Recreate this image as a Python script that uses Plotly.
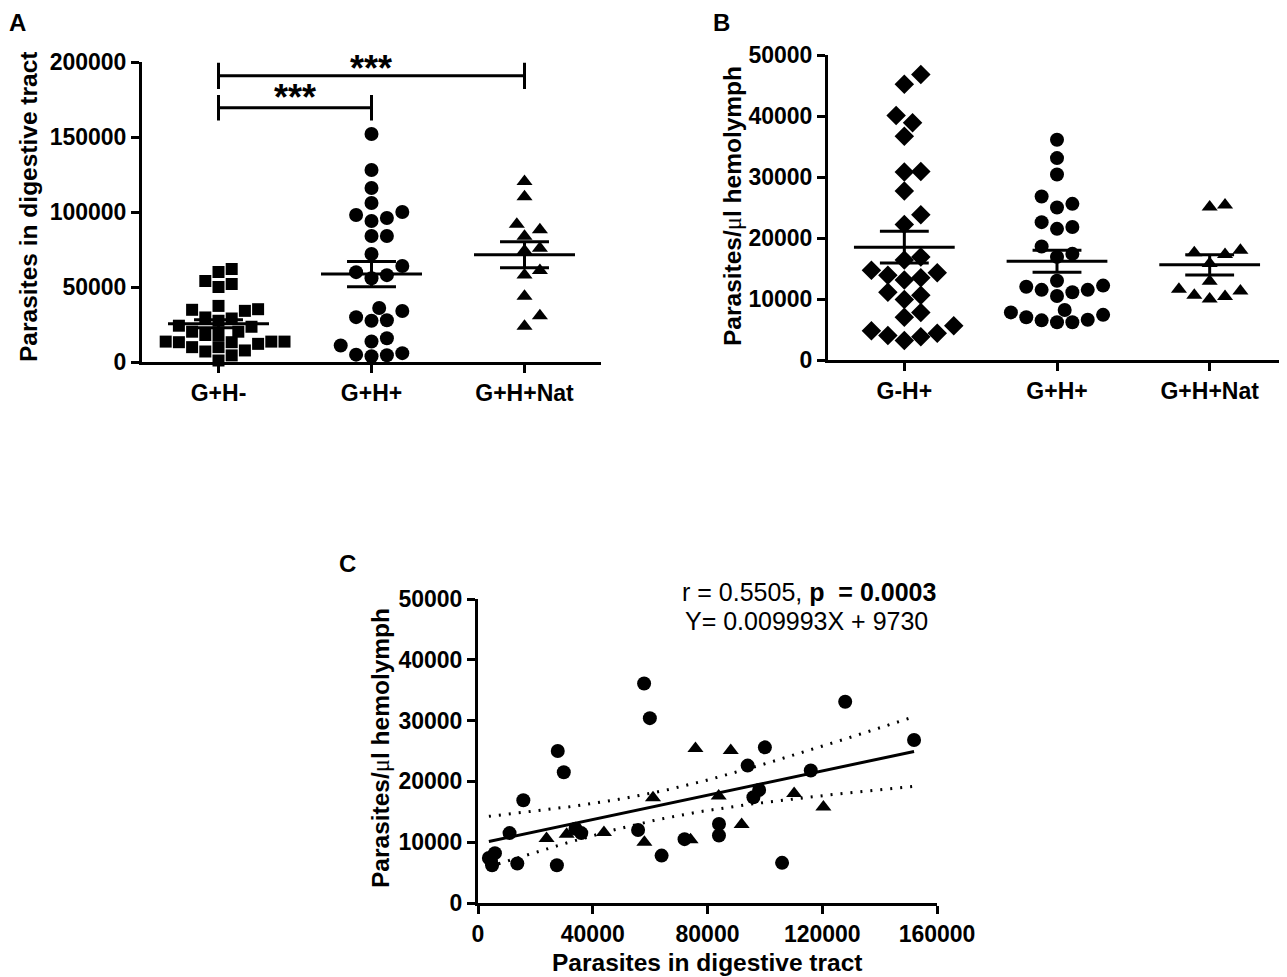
import numpy as np
import plotly.graph_objects as go

# the page body has an 8px margin, so the figure is drawn 8px in from the corner
BODY = 8
W, H = 1287 - BODY, 977 - BODY
FONT = "Liberation Sans"

# ---- data ----
# Panel A: parasites in digestive tract
a_groups = ['G+H-', 'G+H+', 'G+H+Nat']
gut_gh_minus = [62000, 60000, 54000, 52000, 50000, 37400, 35200, 34800, 34100, 29700,
                29000, 27500, 24200, 23500, 20200, 20200, 18000, 18000, 13600, 13600,
                13600, 13200, 13200, 12100, 9900, 9900, 7700, 7000, 4400, 1000]

# G+H+ insects, gut load paired with hemolymph load (used in A, B and C)
gut_gh_plus = [3800, 4500, 4900, 5900, 11000, 13700, 15800, 27800, 27500, 29900,
               34000, 36000, 55800, 57900, 59900, 64000, 72000, 84000, 84000, 94000,
               96000, 98000, 100000, 106000, 116000, 128000, 152000]
hemo_gh_plus = [7400, 7000, 6200, 8200, 11500, 6500, 16900, 25000, 6200, 21500,
                12200, 11500, 12000, 36100, 30400, 7800, 10500, 13000, 11100, 22600,
                17400, 18600, 25600, 6600, 21800, 33100, 26800]

# G+H+Nat insects, paired
gut_nat = [23900, 30900, 43900, 58000, 61000, 74100, 75800, 83900, 88100, 91900, 110200, 120400]
hemo_nat = [10600, 11300, 11600, 10000, 17300, 10400, 25400, 17600, 25100, 12900, 18000, 15800]

# Panel B: parasites / ul hemolymph
b_groups = ['G-H+', 'G+H+', 'G+H+Nat']
hemo_g_minus = [46800, 45200, 40100, 38900, 36700, 30800, 30900, 27700, 23800, 22200,
                16900, 16400, 14300, 14700, 13100, 13500, 13900, 9900, 10600, 11100,
                7800, 7000, 5600, 4800, 4400, 3800, 4000, 3200]

# mean +/- SEM bars as drawn
a_mean = [25500, 58600, 71500]
a_sem = [2600, 8400, 8700]
b_mean = [18500, 16200, 15600]
b_sem = [2600, 1800, 1650]

# Panel C regression: equation as printed, line as drawn
eq_slope, eq_intercept = 0.009993, 9730
line_slope, line_intercept = 0.09993, 9730
r_text = "r = 0.5505, "
p_text = "p\u00a0\u00a0= 0.0003"

# ---- helpers ----
def px(x):
    return (x - BODY) / W


def py(y):
    return 1 - (y - BODY) / H


def swarm(vals, y_px_per_unit, cat_px, size):
    # simple beeswarm: spread points that would overlap side by side
    vals = np.asarray(vals, dtype=float)
    offs = np.zeros(len(vals))
    placed = []
    step = size * 0.55
    for i in np.argsort(vals):
        y = vals[i] * y_px_per_unit
        k = 0
        while True:
            cands = [0.0] if k == 0 else [k * step, -k * step]
            ok = None
            for c in cands:
                if all((c - ox) ** 2 + (y - oy) ** 2 >= size ** 2 for ox, oy in placed):
                    ok = c
                    break
            if ok is not None:
                offs[i] = ok
                placed.append((ok, y))
                break
            k += 1
    return offs / cat_px


def mean_sem_trace(means, sems, xaxis, yaxis):
    xs, ys = [], []
    for i, (m, s) in enumerate(zip(means, sems)):
        xs += [i - 0.33, i + 0.33, None, i, i, None,
               i - 0.16, i + 0.16, None, i - 0.16, i + 0.16, None]
        ys += [m, m, None, m - s, m + s, None,
               m + s, m + s, None, m - s, m - s, None]
    return go.Scatter(x=xs, y=ys, mode='lines', line=dict(color='black', width=3),
                      xaxis=xaxis, yaxis=yaxis, hoverinfo='skip', showlegend=False)


fig = go.Figure()

# ---- Panel A ----
A_YPX = 300 / 200000
CATPX = 153
a_sets = [(gut_gh_minus, 'square', 12), (gut_gh_plus, 'circle', 14), (gut_nat, 'triangle-up', 14)]
for i, (vals, sym, sz) in enumerate(a_sets):
    xo = swarm(vals, A_YPX, CATPX, sz)
    fig.add_trace(go.Scatter(x=i + xo, y=vals, mode='markers', xaxis='x', yaxis='y',
                             marker=dict(symbol=sym, size=sz, color='black'),
                             cliponaxis=False, showlegend=False, name=a_groups[i]))
fig.add_trace(mean_sem_trace(a_mean, a_sem, 'x', 'y'))

# ---- Panel B ----
B_YPX = 305 / 50000
b_sets = [(hemo_g_minus, 'diamond', 15), (hemo_gh_plus, 'circle', 14), (hemo_nat, 'triangle-up', 14)]
for i, (vals, sym, sz) in enumerate(b_sets):
    xo = swarm(vals, B_YPX, CATPX, sz)
    fig.add_trace(go.Scatter(x=i + xo, y=vals, mode='markers', xaxis='x2', yaxis='y2',
                             marker=dict(symbol=sym, size=sz, color='black'),
                             cliponaxis=False, showlegend=False, name=b_groups[i]))
fig.add_trace(mean_sem_trace(b_mean, b_sem, 'x2', 'y2'))

# ---- Panel C ----
x_all = np.array(gut_gh_plus + gut_nat, dtype=float)
y_all = np.array(hemo_gh_plus + hemo_nat, dtype=float)
n = len(x_all)
resid = y_all - (line_slope * x_all + line_intercept)
s = np.sqrt((resid ** 2).sum() / (n - 2))
xbar = x_all.mean()
sxx = ((x_all - xbar) ** 2).sum()
xg = np.linspace(x_all.min(), x_all.max(), 60)
fit = line_slope * xg + line_intercept
half = 2.026 * s * np.sqrt(1 / n + (xg - xbar) ** 2 / sxx)

for band in (fit + half, fit - half):
    fig.add_trace(go.Scatter(x=xg, y=band, mode='lines', xaxis='x3', yaxis='y3',
                             line=dict(color='black', width=3, dash='2px,8px'),
                             hoverinfo='skip', showlegend=False))
fig.add_trace(go.Scatter(x=[xg[0], xg[-1]], y=[fit[0], fit[-1]], mode='lines',
                         xaxis='x3', yaxis='y3', line=dict(color='black', width=3),
                         hoverinfo='skip', showlegend=False))
fig.add_trace(go.Scatter(x=gut_gh_plus, y=hemo_gh_plus, mode='markers', xaxis='x3', yaxis='y3',
                         marker=dict(symbol='circle', size=14, color='black'),
                         cliponaxis=False, showlegend=False, name='G+H+'))
fig.add_trace(go.Scatter(x=gut_nat, y=hemo_nat, mode='markers', xaxis='x3', yaxis='y3',
                         marker=dict(symbol='triangle-up', size=14, color='black'),
                         cliponaxis=False, showlegend=False, name='G+H+Nat'))

# ---- axes ----
tickfont = dict(family=FONT, size=23, color='black', weight='bold')
axis_style = dict(showline=True, linewidth=3, linecolor='black', ticks='outside',
                  ticklen=8, tickwidth=3, tickcolor='black', showgrid=False,
                  zeroline=False, tickfont=tickfont, fixedrange=True, automargin=False)

fig.update_layout(
    width=W, height=H, margin=dict(l=0, r=0, t=0, b=0, pad=0),
    paper_bgcolor='white', plot_bgcolor='white', showlegend=False,
    xaxis=dict(domain=[px(142), px(601)], range=[-0.5, 2.5], tickvals=[0, 1, 2],
               ticktext=a_groups, anchor='y', **axis_style),
    yaxis=dict(domain=[py(362), py(62)], range=[0, 200000], tickvals=list(range(0, 200001, 50000)),
               tickformat='d', anchor='x', **axis_style),
    xaxis2=dict(domain=[px(828), px(1286)], range=[-0.5, 2.5], tickvals=[0, 1, 2],
                ticktext=b_groups, anchor='y2', **axis_style),
    yaxis2=dict(domain=[py(360), py(55)], range=[0, 50000], tickvals=list(range(0, 50001, 10000)),
                tickformat='d', anchor='x2', **axis_style),
    xaxis3=dict(domain=[px(478), px(937)], range=[0, 160000], tickvals=list(range(0, 160001, 40000)),
                tickformat='d', anchor='y3', **axis_style),
    yaxis3=dict(domain=[py(903), py(599)], range=[0, 50000], tickvals=list(range(0, 50001, 10000)),
                tickformat='d', anchor='x3', **axis_style),
)

# significance brackets in A
for x0, x1, yl, yb, yt in [(0, 1, 169500, 161000, 178000), (0, 2, 190800, 182000, 199500)]:
    fig.add_shape(type='line', xref='x', yref='y', x0=x0, x1=x1, y0=yl, y1=yl,
                  line=dict(color='black', width=3))
    for xe in (x0, x1):
        fig.add_shape(type='line', xref='x', yref='y', x0=xe, x1=xe, y0=yb, y1=yt,
                      line=dict(color='black', width=3))

title_font = dict(family=FONT, size=24.5, color='black', weight='bold')
letter_font = dict(family=FONT, size=24, color='black', weight='bold')
mu = "<span style='font-family:Liberation Serif;font-weight:normal'>\u03bc</span>"
star_font = dict(family=FONT, size=36, color='black', weight='bold')
ann = [
    dict(x=px(295), y=py(98), text='***', font=star_font),
    dict(x=px(371), y=py(68), text='***', font=star_font),
    dict(x=px(29), y=py(207), text='Parasites in digestive tract', textangle=-90, font=title_font),
    dict(x=px(732), y=py(206), textangle=-90, font=title_font, text="Parasites/" + mu + "l hemolymph"),
    dict(x=px(380), y=py(748), textangle=-90, font=title_font, text="Parasites/" + mu + "l hemolymph"),
    dict(x=px(707), y=py(962), text='Parasites in digestive tract', font=title_font),
    dict(x=px(938), y=py(592), xanchor='right', text=r_text + '<b>' + p_text + '</b>',
         font=dict(family=FONT, size=25, color='black')),
    dict(x=px(930), y=py(621), xanchor='right', text='Y= %.6fX + %d' % (eq_slope, eq_intercept),
         font=dict(family=FONT, size=25, color='black')),
    dict(x=px(8), y=py(8), xanchor='left', yanchor='top', borderpad=0, text='A', font=letter_font),
    dict(x=px(721), y=py(8), yanchor='top', borderpad=0, text='B', font=letter_font),
    dict(x=px(347), y=py(563), text='C', font=letter_font),
]
for a in ann:
    a.setdefault('xref', 'paper')
    a.setdefault('yref', 'paper')
    a.setdefault('xanchor', 'center')
    a.setdefault('yanchor', 'middle')
    a.setdefault('showarrow', False)
    fig.add_annotation(**a)

fig.write_html("out.html")
